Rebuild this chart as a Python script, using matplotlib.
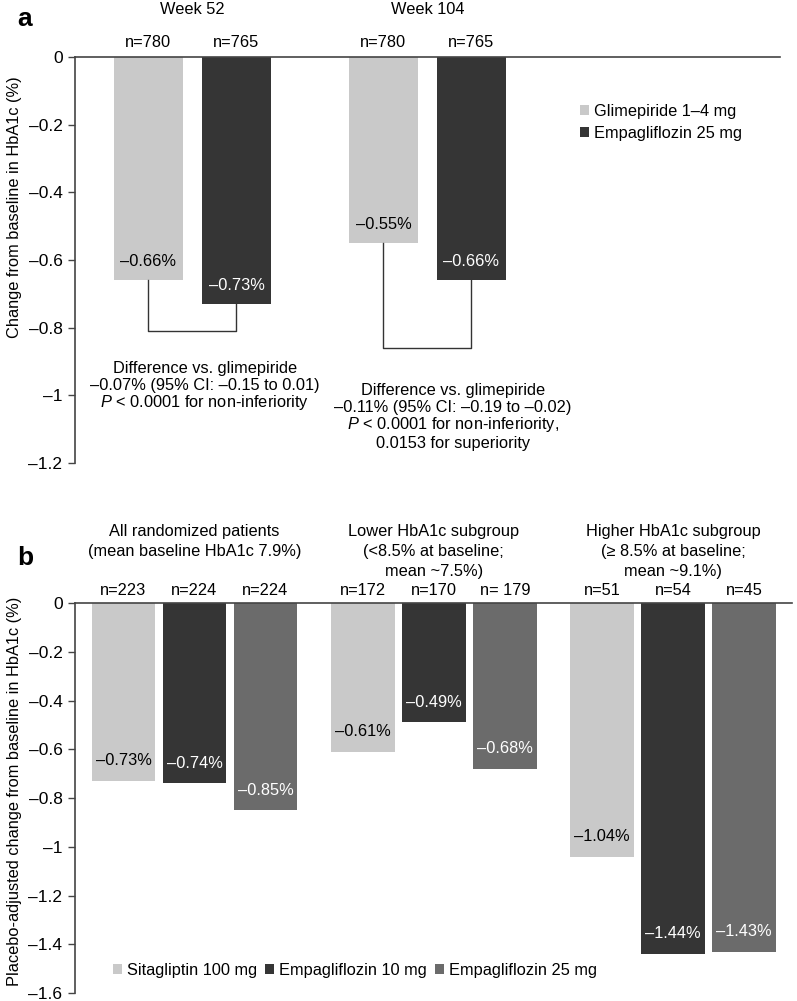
"""
HbA1c change from baseline: glimepiride comparison (a) and
sitagliptin / empagliflozin subgroups (b).
"""

import numpy as np
import matplotlib
matplotlib.use("Agg")
import matplotlib.pyplot as plt
from matplotlib.patches import Patch

plt.rcParams['font.family'] = ['Liberation Sans', 'DejaVu Sans']
plt.rcParams['mathtext.fontset'] = 'custom'
plt.rcParams['mathtext.it'] = 'Liberation Sans:italic'
plt.rcParams['mathtext.rm'] = 'Liberation Sans'

FS = 11.8

# ---- panel a data ----
weeks = ["Week 52", "Week 104"]
a_series = ["Glimepiride 1\u20134 mg", "Empagliflozin 25 mg"]
a_values = [[-0.66, -0.73], [-0.55, -0.66]]
a_n = [["n=780", "n=765"], ["n=780", "n=765"]]
a_notes = [
    ["Difference vs. glimepiride",
     "\u20130.07% (95% CI: \u20130.15 to 0.01)",
     "$\\it{P}$ < 0.0001 for non-inferiority"],
    ["Difference vs. glimepiride",
     "\u20130.11% (95% CI: \u20130.19 to \u20130.02)",
     "$\\it{P}$ < 0.0001 for non-inferiority,",
     "0.0153 for superiority"],
]

# ---- panel b data ----
b_groups = [
    ["All randomized patients", "(mean baseline HbA1c 7.9%)"],
    ["Lower HbA1c subgroup", "(<8.5% at baseline;", "mean ~7.5%)"],
    ["Higher HbA1c subgroup", "(\u2265 8.5% at baseline;", "mean ~9.1%)"],
]
b_series = ["Sitagliptin 100 mg", "Empagliflozin 10 mg", "Empagliflozin 25 mg"]
b_values = [[-0.73, -0.74, -0.85], [-0.61, -0.49, -0.68], [-1.04, -1.44, -1.43]]
b_n = [["n=223", "n=224", "n=224"], ["n=172", "n=170", "n= 179"], ["n=51", "n=54", "n=45"]]

a_colors = ["#c9c9c9", "#353535"]
b_colors = ["#c9c9c9", "#353535", "#6b6b6b"]
a_text = ["black", "white"]
b_text = ["black", "white", "white"]
AXC = "#444444"


def fmt(v):
    s = f"{abs(v):.2f}%"
    return "\u2013" + s if v < 0 else s


def tick_fmt(v, _):
    if abs(v) < 1e-9:
        return "0"
    s = f"{abs(v):g}"
    return "\u2013" + s


def style_axis(ax, ylim, yticks):
    ax.set_ylim(*ylim)
    ax.set_yticks(yticks)
    ax.yaxis.set_major_formatter(plt.FuncFormatter(tick_fmt))
    for side in ["right", "bottom"]:
        ax.spines[side].set_visible(False)
    ax.spines["left"].set_color(AXC)
    ax.spines["top"].set_color(AXC)
    ax.spines["left"].set_linewidth(1.2)
    ax.spines["top"].set_linewidth(1.2)
    ax.set_xticks([])
    ax.tick_params(axis="y", direction="out", length=5, width=1, color=AXC,
                   labelsize=12.5, pad=4)


W, H = 797, 1001
fig = plt.figure(figsize=(W / 100, H / 100), dpi=100)

# ---------------- panel a ----------------
axa = fig.add_axes([75 / W, 1 - 463 / H, 705 / W, 406 / H])
a_step = 2.67
a_width = 0.78
px_a = 88.0          # pixels per x unit
py_a = 338.0         # pixels per y unit
axa.set_xlim(-0.835, -0.835 + 705 / px_a)
style_axis(axa, (-1.2, 0), np.arange(-1.2, 0.01, 0.2))

bracket_levels = [-0.81, -0.86]
note_x = [0.64, 3.46]
# note line centres, in pixels below the zero line
note_px = [[311, 328, 345], [333, 350, 367, 386]]
for g, wk in enumerate(weeks):
    xs = g * a_step + np.arange(len(a_series))
    for j, x in enumerate(xs):
        v = a_values[g][j]
        axa.bar(x, v, width=a_width, color=a_colors[j], zorder=2)
        axa.annotate(fmt(v), (x, v), xytext=(0, 13.5), textcoords="offset points",
                     ha="center", va="center", fontsize=FS, color=a_text[j])
        axa.text(x, 14 / py_a, a_n[g][j], ha="center", va="center", fontsize=FS,
                 clip_on=False)
    axa.text(xs.mean(), 47 / py_a, wk, ha="center", va="center", fontsize=FS,
             clip_on=False)
    lvl = bracket_levels[g]
    axa.plot([xs[0], xs[0], xs[1], xs[1]],
             [a_values[g][0], lvl, lvl, a_values[g][1]],
             color="#333333", lw=1, zorder=3)
    for line, p in zip(a_notes[g], note_px[g]):
        axa.text(note_x[g], -p / py_a, line, ha="center", va="center", fontsize=FS)

fig.text(15 / W, 1 - 207 / H, "Change from baseline in HbA1c (%)", rotation=90,
         ha="center", va="center", fontsize=FS)
fig.text(17 / W, 1 - 19 / H, "a", fontsize=19, fontweight="bold",
         ha="left", va="center")

a_handles = [Patch(facecolor=c, edgecolor="none") for c in a_colors]
fig.legend(a_handles, a_series, loc="upper left",
           bbox_to_anchor=(580 / W, 1 - 104 / H), frameon=False, fontsize=FS,
           handlelength=0.55, handleheight=0.55, handletextpad=0.3,
           labelspacing=0.4, borderaxespad=0, borderpad=0)

# ---------------- panel b ----------------
axb = fig.add_axes([75 / W, 1 - 993 / H, 717 / W, 390 / H])
b_step = 3.37
b_width = 0.9
px_b = 71.0
py_b = 244.0
axb.set_xlim(-0.683, -0.683 + 717 / px_b)
style_axis(axb, (-1.6, 0), np.arange(-1.6, 0.01, 0.2))

for g, hdr in enumerate(b_groups):
    xs = g * b_step + np.arange(len(b_series))
    for j, x in enumerate(xs):
        v = b_values[g][j]
        axb.bar(x, v, width=b_width, color=b_colors[j], zorder=2)
        axb.annotate(fmt(v), (x, v), xytext=(0, 14.5), textcoords="offset points",
                     ha="center", va="center", fontsize=FS, color=b_text[j])
        axb.text(x, 13 / py_b, b_n[g][j], ha="center", va="center", fontsize=FS,
                 clip_on=False)
    for k, line in enumerate(hdr):
        axb.text(xs.mean(), (72 - 20 * k) / py_b, line, ha="center", va="center",
                 fontsize=FS, clip_on=False)

fig.text(15 / W, 1 - 791 / H,
         "Placebo-adjusted change from baseline in HbA1c (%)", rotation=90,
         ha="center", va="center", fontsize=FS)
fig.text(17 / W, 1 - 558 / H, "b", fontsize=19, fontweight="bold",
         ha="left", va="center")

b_handles = [Patch(facecolor=c, edgecolor="none") for c in b_colors]
fig.legend(b_handles, b_series, loc="center left", ncol=3,
           bbox_to_anchor=(113 / W, 1 - 970 / H), frameon=False, fontsize=FS,
           handlelength=0.55, handleheight=0.55, handletextpad=0.3,
           columnspacing=0.5, borderaxespad=0, borderpad=0)

fig.savefig("out.png", dpi=100)
